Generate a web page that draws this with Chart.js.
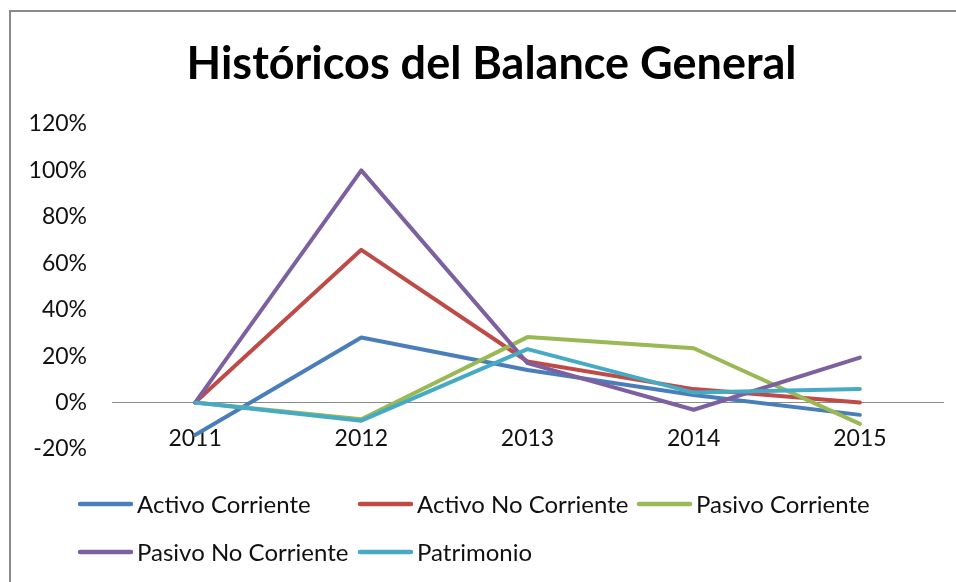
<!DOCTYPE html>
<html>
<head>
<meta charset="utf-8">
<script src="https://cdn.jsdelivr.net/npm/chart.js@4/dist/chart.umd.min.js"></script>
<style>
  html, body { margin: 0; padding: 0; background: #fff; overflow: hidden; }
  #wrap { position: relative; width: 956px; height: 582px; }
  #frame { position: absolute; left: 9px; top: 10px; width: 1000px; height: 600px;
           border-left: 2px solid #8a8a8a; border-top: 2px solid #8a8a8a; box-sizing: border-box; }
  canvas { position: absolute; left: 0; top: 0; }
</style>
</head>
<body>
<div id="wrap">
  <div id="frame"></div>
  <canvas id="c" width="956" height="582"></canvas>
</div>
<script>
const titleText = 'Históricos del Balance General';
const categories = ['2011', '2012', '2013', '2014', '2015'];
const seriesNames = ['Activo Corriente', 'Activo No Corriente', 'Pasivo Corriente', 'Pasivo No Corriente', 'Patrimonio'];
const activoCorriente   = [-0.14, 0.28, 0.14, 0.033, -0.053];
const activoNoCorriente = [0, 0.658, 0.177, 0.058, 0.0];
const pasivoCorriente   = [0, -0.072, 0.282, 0.234, -0.092];
const pasivoNoCorriente = [0, 1.0, 0.17, -0.031, 0.194];
const patrimonio        = [0, -0.078, 0.23, 0.043, 0.058];
const yTicks = [-0.2, 0, 0.2, 0.4, 0.6, 0.8, 1.0, 1.2];

const colors = ['#4A7EBB', '#BE4B48', '#98B954', '#7D60A0', '#46AAC5'];
const seriesValues = [activoCorriente, activoNoCorriente, pasivoCorriente, pasivoNoCorriente, patrimonio];
const FONT = 'Lato';

const datasets = seriesNames.map((name, i) => ({
  label: name,
  data: seriesValues[i],
  borderColor: colors[i],
  backgroundColor: colors[i],
  borderWidth: 4,
  borderCapStyle: 'round',
  borderJoinStyle: 'round',
  pointRadius: 0,
  tension: 0,
  fill: false,
  order: seriesNames.length - i
}));

const shiftTitle = {
  id: 'shiftTitle',
  afterLayout(chart) {
    const t = chart.titleBlock;
    if (t) { t.left += 9; t.right += 9; }
  }
};

const gridLegend = {
  id: 'gridLegend',
  afterDraw(chart) {
    const ctx = chart.ctx;
    const cols = [78, 358, 637];
    const rows = [504, 552];
    ctx.save();
    ctx.font = '24px ' + FONT;
    ctx.textBaseline = 'middle';
    ctx.textAlign = 'left';
    chart.data.datasets.forEach((ds, i) => {
      const x = cols[i % 3];
      const y = rows[Math.floor(i / 3)];
      ctx.strokeStyle = ds.borderColor;
      ctx.lineWidth = 4.5;
      ctx.lineCap = 'round';
      ctx.beginPath();
      ctx.moveTo(x + 2, y);
      ctx.lineTo(x + 53, y);
      ctx.stroke();
      ctx.fillStyle = '#111';
      ctx.fillText(ds.label, x + 59, y + 1);
    });
    ctx.restore();
  }
};

new Chart(document.getElementById('c'), {
  type: 'line',
  data: { labels: categories, datasets },
  plugins: [shiftTitle, gridLegend],
  options: {
    responsive: false,
    animation: false,
    devicePixelRatio: 1,
    layout: { padding: { left: 22, right: 13, top: 0, bottom: 133 } },
    plugins: {
      legend: { display: false },
      tooltip: { enabled: false },
      title: {
        display: true,
        text: titleText,
        color: '#000',
        font: { family: FONT, size: 45, weight: 'bold', lineHeight: 1.2 },
        padding: { top: 37, bottom: 33 }
      }
    },
    scales: {
      x: {
        type: 'category',
        offset: true,
        position: { y: 0 },
        afterFit(s) { s.height = 0; },
        grid: { display: false, drawTicks: false },
        border: { display: true, color: '#8c8c8c', width: 1 },
        ticks: { color: '#111', font: { family: FONT, size: 23 }, padding: 22, maxRotation: 0 }
      },
      y: {
        min: -0.2,
        max: 1.2,
        afterFit(s) { s.width = 90; },
        afterBuildTicks(s) { s.ticks = yTicks.map(v => ({ value: v })); },
        grid: { display: false, drawTicks: false },
        border: { display: false },
        ticks: {
          color: '#111',
          font: { family: FONT, size: 23 },
          padding: 25,
          callback: v => Math.round(v * 100) + '%'
        }
      }
    }
  }
});
</script>
</body>
</html>
